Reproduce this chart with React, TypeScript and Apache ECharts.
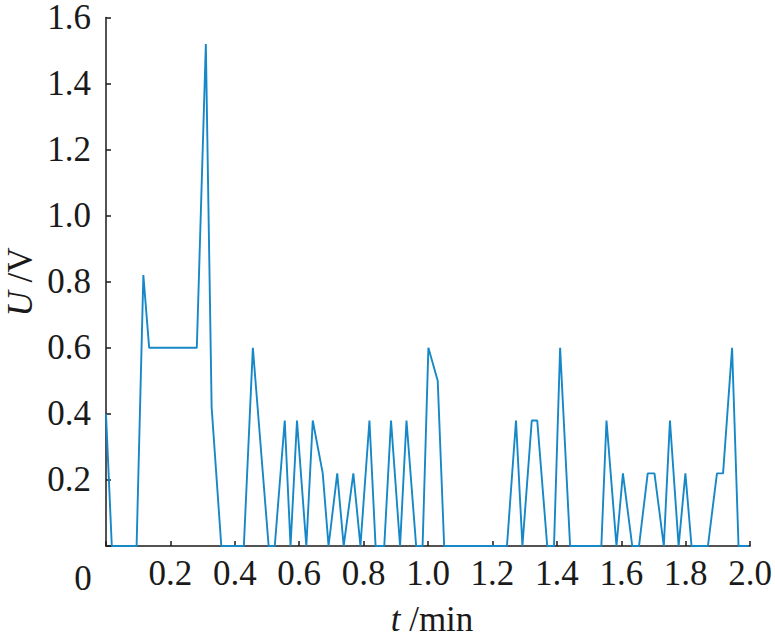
import React, { useEffect, useRef } from "react";
import * as echarts from "echarts";

// time (min) and voltage (V)
const tValues = [
  0.0, 0.018, 0.095, 0.116, 0.134, 0.282, 0.31, 0.328, 0.358, 0.428,
  0.456, 0.505, 0.524, 0.555, 0.573, 0.593, 0.622, 0.642, 0.673, 0.691,
  0.718, 0.738, 0.768, 0.79, 0.818, 0.837, 0.864, 0.885, 0.913, 0.933,
  0.963, 0.983, 1.001, 1.03, 1.05, 1.245, 1.273, 1.293, 1.322, 1.339,
  1.37, 1.391, 1.41, 1.441, 1.538, 1.554, 1.585, 1.605, 1.634, 1.655,
  1.682, 1.703, 1.732, 1.751, 1.778, 1.799, 1.818, 1.869, 1.897, 1.916,
  1.944, 1.964, 1.995,
];
const uValues = [
  0.4, 0, 0, 0.82, 0.6, 0.6, 1.52, 0.42, 0, 0,
  0.6, 0, 0, 0.38, 0, 0.38, 0, 0.38, 0.22, 0,
  0.22, 0, 0.22, 0, 0.38, 0, 0, 0.38, 0, 0.38,
  0, 0, 0.6, 0.5, 0, 0, 0.38, 0, 0.38, 0.38,
  0, 0, 0.6, 0, 0, 0.38, 0, 0.22, 0, 0,
  0.22, 0.22, 0, 0.38, 0, 0.22, 0, 0, 0.22, 0.22,
  0.6, 0, 0,
];

const xMin = 0;
const xMax = 2.0;
const xStep = 0.2;
const yMin = 0;
const yMax = 1.6;
const yStep = 0.2;

const FONT = "'Liberation Serif', 'Times New Roman', serif";

export default function App() {
  const ref = useRef<HTMLDivElement>(null);

  useEffect(() => {
    if (!ref.current) return;
    const chart = echarts.init(ref.current, undefined, { renderer: "svg" });
    const data = tValues.map((t, i) => [t, uValues[i]]);
    chart.setOption({
      animation: false,
      backgroundColor: "#ffffff",
      grid: { left: 106, right: 23.5, top: 16, bottom: 92, containLabel: false },
      xAxis: {
        type: "value",
        min: xMin,
        max: xMax,
        interval: xStep,
        axisLine: { show: true, lineStyle: { color: "#1a1a1a", width: 1.5 } },
        axisTick: { show: true, inside: true, length: 5, lineStyle: { color: "#1a1a1a", width: 1.5 } },
        axisLabel: {
          color: "#1a1a1a",
          fontFamily: FONT,
          fontSize: 35,
          margin: 10,
          formatter: (v: number) => (v === 0 ? "" : v.toFixed(1)),
        },
        splitLine: { show: false },
      },
      yAxis: {
        type: "value",
        min: yMin,
        max: yMax,
        interval: yStep,
        axisLine: { show: true, lineStyle: { color: "#1a1a1a", width: 1.5 } },
        axisTick: { show: true, inside: true, length: 5, lineStyle: { color: "#1a1a1a", width: 1.5 } },
        axisLabel: {
          color: "#1a1a1a",
          fontFamily: FONT,
          fontSize: 35,
          lineHeight: 28,
          margin: 15,
          formatter: (v: number) => (v === 0 ? "" : v.toFixed(1)),
        },
        splitLine: { show: false },
      },
      graphic: [
        {
          type: "text",
          x: 83,
          y: 578,
          style: {
            text: "0",
            font: `35px ${FONT}`,
            fill: "#1a1a1a",
            textAlign: "center",
            textVerticalAlign: "middle",
          },
        },
        {
          type: "text",
          x: 432,
          y: 619,
          style: {
            text: "{i|t} /min",
            textAlign: "center",
            textVerticalAlign: "middle",
            fill: "#1a1a1a",
            font: `35px ${FONT}`,
            rich: {
              i: { fontStyle: "italic", fontFamily: FONT, fontSize: 35, fill: "#1a1a1a" },
            },
          },
        },
        {
          type: "text",
          x: 20,
          y: 282,
          rotation: Math.PI / 2,
          style: {
            text: "{i|U} /V",
            textAlign: "center",
            textVerticalAlign: "middle",
            fill: "#1a1a1a",
            font: `35px ${FONT}`,
            rich: {
              i: { fontStyle: "italic", fontFamily: FONT, fontSize: 35, fill: "#1a1a1a" },
            },
          },
        },
      ],
      series: [
        {
          type: "line",
          data,
          showSymbol: false,
          symbol: "none",
          clip: false,
          lineStyle: { color: "#1688c7", width: 1.9 },
        },
      ],
    });
    return () => chart.dispose();
  }, []);

  return (
    <div
      ref={ref}
      style={{ position: "absolute", left: 0, top: 0, width: 775, height: 638, background: "#fff" }}
    />
  );
}
